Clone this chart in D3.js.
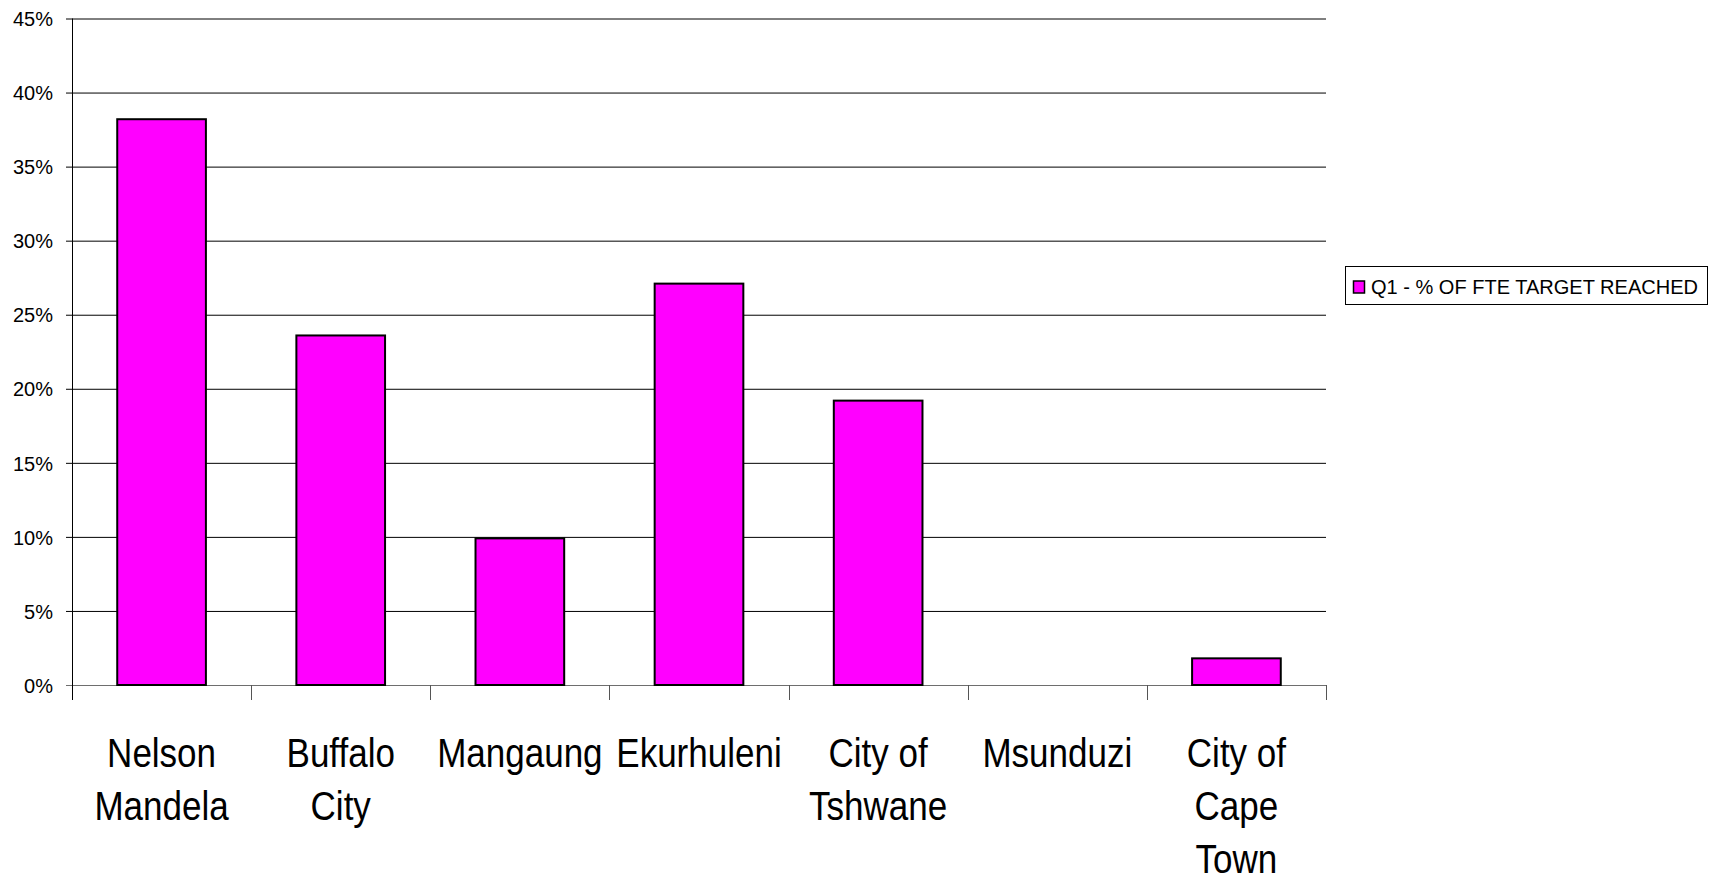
<!DOCTYPE html>
<html>
<head>
<meta charset="utf-8">
<script src="https://cdn.jsdelivr.net/npm/d3@7"></script>
<style>
  html, body { margin: 0; padding: 0; background: #fff; }
  svg text { font-family: "Liberation Sans Narrow", "Arial Narrow", "Liberation Sans", Arial, sans-serif; fill: #000; }
</style>
</head>
<body>
<svg id="chart" width="1715" height="884"></svg>
<script>
// Municipalities and their Q1 share of the FTE target reached
const categories = [
  ["Nelson", "Mandela"],
  ["Buffalo", "City"],
  ["Mangaung"],
  ["Ekurhuleni"],
  ["City of", "Tshwane"],
  ["Msunduzi"],
  ["City of", "Cape", "Town"]
];
const values = [0.382, 0.236, 0.099, 0.271, 0.192, 0, 0.018];
const yTicks = [0, 0.05, 0.10, 0.15, 0.20, 0.25, 0.30, 0.35, 0.40, 0.45];
const seriesName = "Q1 - % OF FTE TARGET REACHED";

const svg = d3.select("#chart");
const plot = { left: 72, right: 1326, top: 18.5, bottom: 685 };

const keys = categories.map(c => c.join(" "));
const x = d3.scaleBand().domain(keys).range([plot.left, plot.right]).paddingInner(0.505).paddingOuter(0.2525);
const y = d3.scaleLinear().domain([0, 0.45]).range([plot.bottom, plot.top]);

// Horizontal gridlines with short ticks out to the left
const yAxis = d3.axisLeft(y)
  .tickValues(yTicks)
  .tickFormat(d3.format(".0%"))
  .tickSizeInner(-(plot.right - plot.left))
  .tickSizeOuter(0)
  .tickPadding(19);
const gy = svg.append("g").attr("transform", `translate(${plot.left},0)`).call(yAxis);
gy.select(".domain").remove();
gy.selectAll(".tick line")
  .attr("x1", -6)
  .attr("stroke", (d) => d === 0 ? "#6e6e6e" : "#000")
  .attr("stroke-width", 1);
gy.selectAll(".tick text")
  .attr("font-size", 20)
  .attr("dy", "0.36em");

// Vertical axis line
svg.append("line")
  .attr("x1", plot.left + 0.5).attr("x2", plot.left + 0.5)
  .attr("y1", y(0.45)).attr("y2", plot.bottom + 15)
  .attr("stroke", "#000").attr("stroke-width", 1);

// Category boundary ticks below the baseline
const step = (plot.right - plot.left) / keys.length;
svg.append("g").selectAll("line")
  .data(d3.range(1, keys.length + 1))
  .join("line")
  .attr("x1", i => Math.round(plot.left + i * step) + 0.5)
  .attr("x2", i => Math.round(plot.left + i * step) + 0.5)
  .attr("y1", plot.bottom)
  .attr("y2", plot.bottom + 15)
  .attr("stroke", "#555")
  .attr("stroke-width", 1);

// Bars
svg.append("g").selectAll("rect")
  .data(values)
  .join("rect")
  .attr("x", (d, i) => x(keys[i]))
  .attr("width", x.bandwidth())
  .attr("y", d => y(d))
  .attr("height", d => y(0) - y(d))
  .attr("fill", "#ff00ff")
  .attr("stroke", "#000")
  .attr("stroke-width", 2);

// Category labels, one line per word group, horizontally condensed
const labels = svg.append("g").selectAll("text")
  .data(categories)
  .join("text")
  .attr("text-anchor", "middle")
  .attr("font-size", 40)
  .attr("transform", (d, i) => `translate(${x(keys[i]) + x.bandwidth() / 2},767) scale(0.875,1)`);
labels.selectAll("tspan")
  .data(d => d)
  .join("tspan")
  .attr("x", 0)
  .attr("y", (d, i) => i * 53)
  .text(d => d);

// Legend
const legend = svg.append("g").attr("transform", "translate(1345,266)");
legend.append("rect")
  .attr("x", 0.5).attr("y", 0.5)
  .attr("width", 362).attr("height", 38)
  .attr("fill", "#fff").attr("stroke", "#000").attr("stroke-width", 1);
legend.append("rect")
  .attr("x", 8.5).attr("y", 15)
  .attr("width", 11).attr("height", 12)
  .attr("fill", "#ff00ff").attr("stroke", "#000").attr("stroke-width", 1.5);
legend.append("text")
  .attr("x", 26).attr("y", 28)
  .attr("font-size", 21)
  .attr("textLength", 327)
  .attr("lengthAdjust", "spacingAndGlyphs")
  .text(seriesName);
</script>
</body>
</html>
